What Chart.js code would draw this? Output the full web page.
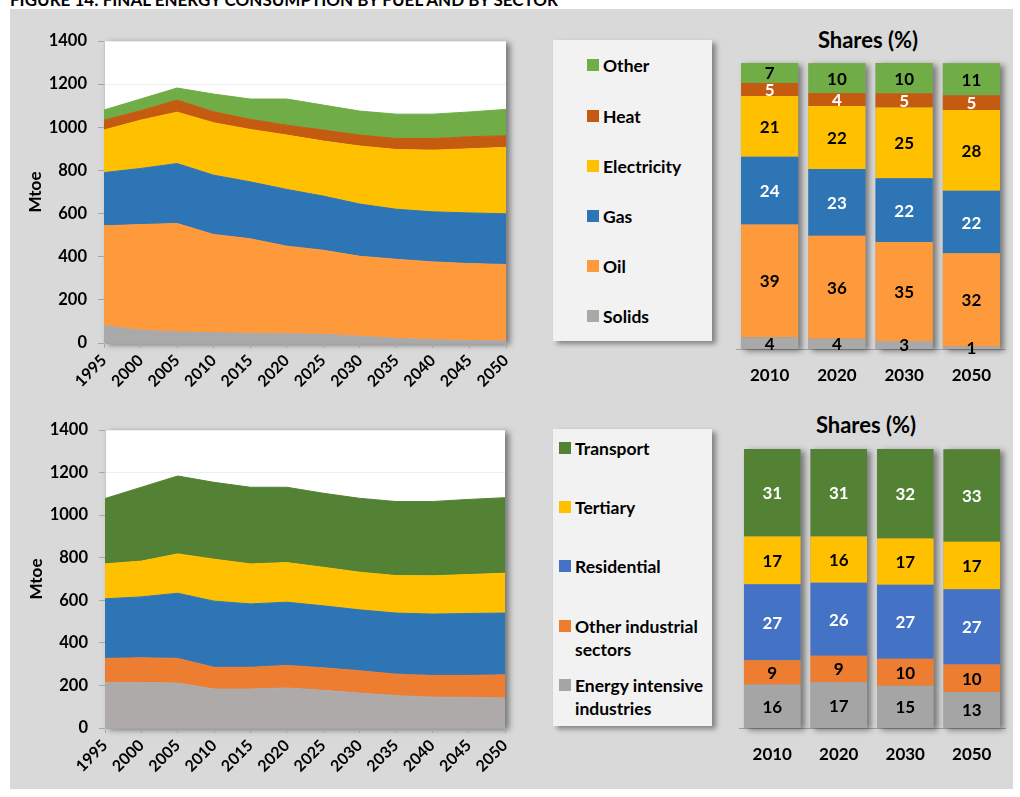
<!DOCTYPE html>
<html lang="en">
<head>
<meta charset="UTF-8" />
<title>Final energy consumption by fuel and by sector</title>
<script src="https://cdn.jsdelivr.net/npm/chart.js@4.4.0/dist/chart.umd.min.js"></script>
<style>
  * { margin: 0; padding: 0; }
  body { width: 1020px; height: 797px; overflow: hidden; background: #fff; position: relative; font-family: Lato, sans-serif; }
  .panel { position: absolute; left: 10px; top: 9px; width: 1003px; height: 780px; background: #d9d9d9; }
  .fig-title { position: absolute; left: 10px; top: -9px; font: bold 17px Lato; line-height: 17px; white-space: nowrap; color: #000; }
  .cv { position: absolute; }
  .legend { position: absolute; background: #f2f2f2; box-shadow: 4px 3px 5px rgba(0,0,0,0.4); }
  .legend .txt { position: absolute; width: 152px; font: bold 17.5px Lato; line-height: 23px; color: #000; }
  .legend .sw { position: absolute; width: 12px; height: 12px; }
  .shares { position: absolute; width: 200px; text-align: center; font: bold 22px Lato; line-height: 26px; color: #000; }
</style>
</head>
<body>
  <div class="panel"></div>
  <div class="fig-title">FIGURE 14: FINAL ENERGY CONSUMPTION BY FUEL AND BY SECTOR</div>

  <canvas id="fuel-area" class="cv" width="510" height="385" style="left:20px;top:20px"></canvas>
  <div id="fuel-legend" class="legend" style="left:553px;top:40px;width:159px;height:301px"></div>
  <div class="shares" style="left:768px;top:27px">Shares (%)</div>
  <canvas id="fuel-shares" class="cv" width="290" height="370" style="left:725px;top:20px"></canvas>

  <canvas id="sector-area" class="cv" width="510" height="380" style="left:20px;top:405px"></canvas>
  <div id="sector-legend" class="legend" style="left:553px;top:429px;width:159px;height:297px"></div>
  <div class="shares" style="left:766px;top:412px">Shares (%)</div>
  <canvas id="sector-shares" class="cv" width="290" height="380" style="left:725px;top:400px"></canvas>

<script>
// --- data ---
const years = ['1995','2000','2005','2010','2015','2020','2025','2030','2035','2040','2045','2050'];
const shareYears = ['2010','2020','2030','2050'];

// fuels (Mtoe), bottom to top
const fuelNames  = ['Solids','Oil','Gas','Electricity','Heat','Other'];
const fuelColors = ['#a9a9a9','#ff9a3c','#2e75b6','#ffc000','#c55a11','#70ad47'];
const solids      = [82, 59, 51, 48, 45, 43, 40, 31, 22, 15, 12, 9];
const oil         = [461, 490, 503, 455, 438, 406, 390, 371, 366, 361, 356, 355];
const gas         = [247, 260, 278, 275, 264, 263, 251, 242, 232, 232, 235, 235];
const electricity = [197, 224, 238, 243, 243, 252, 255, 269, 277, 286, 297, 308];
const heat        = [46, 44, 56, 51, 47, 46, 51, 51, 51, 54, 56, 54];
const other       = [47, 54, 56, 82, 94, 121, 116, 111, 113, 113, 115, 122];

// fuel shares (%), 2010 / 2020 / 2030 / 2050
const solidsShare = [4.1, 3.6, 2.8, 0.9];
const oilShare    = [39.4, 36.0, 34.6, 32.6];
const gasShare    = [23.7, 23.3, 22.3, 21.8];
const elecShare   = [21.3, 22.1, 24.7, 28.3];
const heatShare   = [4.5, 4.5, 5.0, 5.1];
const otherShare  = [7.0, 10.4, 10.6, 11.2];
// printed share labels
const solidsLbl = [4, 4, 3, 1];
const oilLbl    = [39, 36, 35, 32];
const gasLbl    = [24, 23, 22, 22];
const elecLbl   = [21, 22, 25, 28];
const heatLbl   = [5, 4, 5, 5];
const otherLbl  = [7, 10, 10, 11];
const fuelLblColors = ['#000','#000','#fff','#000','#fff','#000'];

// sectors (Mtoe), bottom to top
const sectorNames  = ['Energy intensive industries','Other industrial sectors','Residential','Tertiary','Transport'];
const sectorAreaColors = ['#aeaaaa','#ed7d31','#2e75b6','#ffc000','#548235'];
const sectorBarColors  = ['#a5a5a5','#ed7d31','#4472c4','#ffc000','#548235'];
const energyIntensive = [214, 214, 211, 183, 183, 188, 177, 164, 152, 145, 144, 141];
const otherIndustrial = [113, 116, 116, 102, 102, 106, 106, 105, 101, 102, 103, 109];
const residential     = [280, 286, 306, 311, 298, 297, 291, 286, 287, 288, 291, 290];
const tertiary        = [164, 168, 185, 197, 188, 186, 181, 177, 176, 180, 183, 187];
const transport       = [307, 347, 366, 361, 360, 354, 348, 347, 348, 349, 353, 355];

// sector shares (%)
const eiiShare  = [15.6, 16.4, 15.1, 12.9];
const oisShare  = [8.7, 9.5, 9.7, 9.9];
const resShare  = [27.2, 26.2, 26.5, 26.9];
const terShare  = [17.1, 16.5, 16.6, 17.1];
const traShare  = [31.4, 31.4, 32.1, 33.1];
const eiiLbl = [16, 17, 15, 13];
const oisLbl = [9, 9, 10, 10];
const resLbl = [27, 26, 27, 27];
const terLbl = [17, 16, 17, 17];
const traLbl = [31, 31, 32, 33];
const sectorLblColors = ['#000','#000','#fff','#000','#fff'];

// --- plugins ---
const plotBg = {
  id: 'plotBg',
  beforeDraw(chart) {
    const { ctx, chartArea: a } = chart;
    ctx.save();
    ctx.shadowColor = 'rgba(0,0,0,0.45)';
    ctx.shadowBlur = 6;
    ctx.shadowOffsetX = 4;
    ctx.shadowOffsetY = 2;
    ctx.fillStyle = '#fff';
    ctx.fillRect(a.left, a.top, a.width, a.height);
    ctx.restore();
  }
};

const barShadow = {
  id: 'barShadow',
  beforeDatasetsDraw(chart) {
    const ctx = chart.ctx;
    const metas = chart.data.datasets.map((d, i) => chart.getDatasetMeta(i));
    ctx.save();
    ctx.shadowColor = 'rgba(0,0,0,0.45)';
    ctx.shadowBlur = 6;
    ctx.shadowOffsetX = 4;
    ctx.shadowOffsetY = 2;
    ctx.fillStyle = '#999';
    metas[0].data.forEach((el, i) => {
      const top = Math.min(...metas.map(m => m.data[i].y));
      ctx.fillRect(el.x - el.width / 2, top, el.width, el.base - top);
    });
    ctx.restore();
  }
};

const barLabels = {
  id: 'barLabels',
  afterDatasetsDraw(chart) {
    const ctx = chart.ctx;
    ctx.save();
    ctx.font = 'bold 17px Lato';
    ctx.textAlign = 'center';
    ctx.textBaseline = 'middle';
    chart.data.datasets.forEach((ds, di) => {
      ctx.fillStyle = ds.textColor;
      chart.getDatasetMeta(di).data.forEach((el, i) => {
        ctx.fillText(String(ds.valueLabels[i]), el.x, (el.y + el.base) / 2 + 1);
      });
    });
    ctx.restore();
  }
};

const boldFont = size => ({ family: 'Lato', weight: 'bold', size });

function areaChart(id, names, colors, series, pad, xHeight) {
  new Chart(document.getElementById(id), {
    type: 'line',
    data: {
      labels: years,
      datasets: series.map((d, i) => ({
        label: names[i],
        data: d,
        backgroundColor: colors[i],
        borderColor: colors[i],
        borderWidth: 1,
        pointRadius: 0,
        tension: 0,
        fill: i === 0 ? 'origin' : '-1'
      }))
    },
    options: {
      responsive: false,
      animation: false,
      layout: { padding: pad },
      plugins: { legend: { display: false }, tooltip: { enabled: false } },
      scales: {
        x: {
          ticks: { font: boldFont(16), color: '#000', minRotation: 45, maxRotation: 45, autoSkip: false, padding: 3 },
          grid: { drawOnChartArea: false, tickLength: 5, tickColor: '#a6a6a6' },
          border: { color: '#a6a6a6' },
          afterFit: s => { s.height = xHeight; }
        },
        y: {
          stacked: true,
          min: 0, max: 1400,
          ticks: { stepSize: 200, font: boldFont(16.5), color: '#000', padding: 11, callback: v => String(v) },
          title: { display: true, text: 'Mtoe', font: boldFont(17), color: '#000', padding: { top: 5, bottom: 0 } },
          grid: { color: '#eeeeee', tickColor: '#a6a6a6', tickLength: 6 },
          border: { color: '#c8c8c8' },
          afterFit: s => { s.width = 84; }
        }
      }
    },
    plugins: [plotBg]
  });
}

function shareChart(id, names, colors, series, labels, textColors, pad, xHeight) {
  new Chart(document.getElementById(id), {
    type: 'bar',
    data: {
      labels: shareYears,
      datasets: series.map((d, i) => ({
        label: names[i],
        data: d,
        backgroundColor: colors[i],
        barPercentage: 0.85,
        categoryPercentage: 1,
        valueLabels: labels[i],
        textColor: textColors[i]
      }))
    },
    options: {
      responsive: false,
      animation: false,
      layout: { padding: pad },
      plugins: { legend: { display: false }, tooltip: { enabled: false } },
      scales: {
        x: {
          stacked: true,
          ticks: { font: boldFont(17), color: '#000', padding: 16 },
          grid: { drawOnChartArea: false, drawTicks: false },
          border: { color: '#a0a0a0' },
          afterFit: s => { s.height = xHeight; }
        },
        y: { stacked: true, display: false, min: 0, max: 100 }
      }
    },
    plugins: [barShadow, barLabels]
  });
}

function buildLegend(id, names, colors, centers, swX, txtX) {
  const box = document.getElementById(id);
  // legend lists top series first
  for (let k = 0; k < names.length; k++) {
    const i = names.length - 1 - k;
    const sw = document.createElement('div');
    sw.className = 'sw';
    sw.style.left = swX + 'px';
    sw.style.top = (centers[k] - 6) + 'px';
    sw.style.background = colors[i];
    const t = document.createElement('div');
    t.className = 'txt';
    t.style.left = txtX + 'px';
    t.style.top = (centers[k] - 11.5) + 'px';
    t.textContent = names[i];
    box.appendChild(sw);
    box.appendChild(t);
  }
}

areaChart('fuel-area', fuelNames, fuelColors,
  [solids, oil, gas, electricity, heat, other],
  { top: 21, right: 24, left: 0, bottom: 0 }, 62);
areaChart('sector-area', sectorNames, sectorAreaColors,
  [energyIntensive, otherIndustrial, residential, tertiary, transport],
  { top: 25, right: 25, left: 1, bottom: 0 }, 57);

shareChart('fuel-shares', fuelNames, fuelColors,
  [solidsShare, oilShare, gasShare, elecShare, heatShare, otherShare],
  [solidsLbl, oilLbl, gasLbl, elecLbl, heatLbl, otherLbl],
  fuelLblColors, { top: 43, left: 11, right: 10, bottom: 0 }, 41);
shareChart('sector-shares', sectorNames, sectorBarColors,
  [eiiShare, oisShare, resShare, terShare, traShare],
  [eiiLbl, oisLbl, resLbl, terLbl, traLbl],
  sectorLblColors, { top: 49, left: 14, right: 10, bottom: 0 }, 52);

buildLegend('fuel-legend', fuelNames, fuelColors, [25, 76, 126, 176, 226, 276], 34, 50);
buildLegend('sector-legend', sectorNames, sectorBarColors, [19, 78, 137, 197, 256], 6, 22);
</script>
</body>
</html>
